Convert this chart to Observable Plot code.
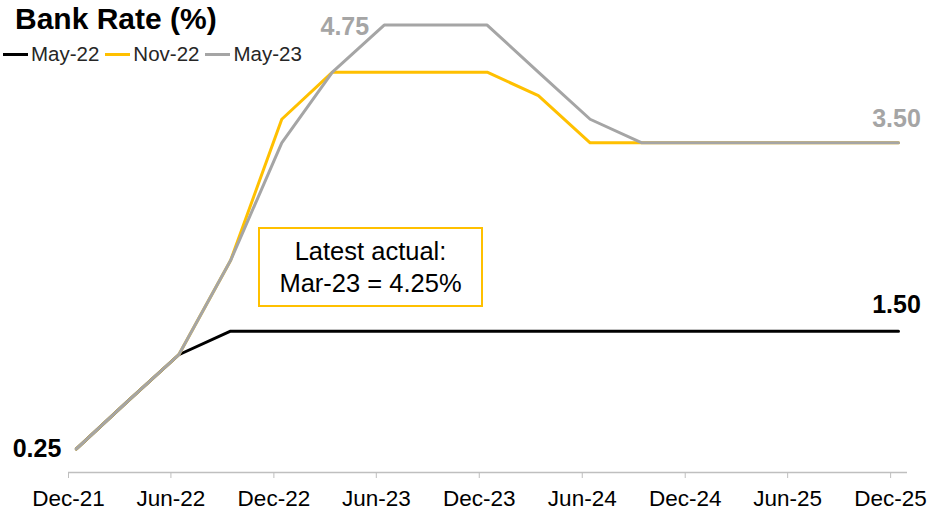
<!DOCTYPE html>
<html>
<head>
<meta charset="utf-8">
<script src="https://cdn.jsdelivr.net/npm/d3@7"></script>
<script src="https://cdn.jsdelivr.net/npm/@observablehq/plot@0.6"></script>
<style>
  body { margin: 0; background: #fff; font-family: "Liberation Sans", Arial, sans-serif; }
  #chart { position: relative; width: 934px; height: 512px; overflow: hidden; }
  #title { position: absolute; left: 15px; top: 4px; font-size: 30px; font-weight: bold; line-height: 30px; color: #000; white-space: nowrap; }
  #legend { position: absolute; left: 3px; top: 44px; display: flex; align-items: center; font-size: 20.5px; line-height: 20px; color: #262626; }
  #legend .item { display: flex; align-items: center; margin-right: 6px; }
  #legend .swatch { width: 25px; height: 3px; margin-right: 3px; }
  #note { position: absolute; left: 258px; top: 227px; width: 225px; height: 80px; box-sizing: border-box;
          border: 2px solid #FFC000; padding-top: 6px; text-align: center; font-size: 25.5px; line-height: 32px; color: #000; }
</style>
</head>
<body>
<div id="chart"></div>
<script>
// Quarterly Bank Rate paths (%) from three forecast vintages
const quarters = ["Dec-21", "Mar-22", "Jun-22", "Sep-22", "Dec-22", "Mar-23", "Jun-23", "Sep-23", "Dec-23",
                  "Mar-24", "Jun-24", "Sep-24", "Dec-24", "Mar-25", "Jun-25", "Sep-25", "Dec-25"];
const seriesNames = ["May-22", "Nov-22", "May-23"];
const may22 = [0.25, 0.75, 1.25, 1.5, 1.5, 1.5, 1.5, 1.5, 1.5, 1.5, 1.5, 1.5, 1.5, 1.5, 1.5, 1.5, 1.5];
const nov22 = [0.25, 0.75, 1.25, 2.25, 3.75, 4.25, 4.25, 4.25, 4.25, 4.0, 3.5, 3.5, 3.5, 3.5, 3.5, 3.5, 3.5];
const may23 = [0.25, 0.75, 1.25, 2.25, 3.5, 4.25, 4.75, 4.75, 4.75, 4.25, 3.75, 3.5, 3.5, 3.5, 3.5, 3.5, 3.5];
const seriesColors = ["#000000", "#FFC000", "#A5A5A5"];
const tickLabels = ["Dec-21", "Jun-22", "Dec-22", "Jun-23", "Dec-23", "Jun-24", "Dec-24", "Jun-25", "Dec-25"];
const latestActual = "Mar-23";

const parseMonth = d3.timeParse("%b-%y");
const fmt = d3.format(".2f");
// observations sit mid-month; axis ticks mark the first of the month
const dates = quarters.map(q => d3.timeDay.offset(parseMonth(q), 14));
const tickDates = tickLabels.map(parseMonth);

const allValues = [may22, nov22, may23];
const rows = allValues.flatMap((vals, s) =>
  vals.map((v, i) => ({series: seriesNames[s], date: dates[i], value: v})));

const lastIdx = quarters.length - 1;
const peakIdx = may23.indexOf(d3.max(may23));

const labelStyle = {x: "date", y: "value", text: d => fmt(d.value), fontWeight: "bold", fontSize: 25};

const plot = Plot.plot({
  width: 934,
  height: 512,
  marginLeft: 68,
  marginRight: 27,
  marginTop: 1,
  marginBottom: 40,
  style: {fontFamily: "Liberation Sans, Arial, sans-serif", fontSize: "22.5px", overflow: "visible", background: "transparent"},
  x: {type: "time", domain: [parseMonth("Dec-21"), new Date(2025, 11, 31)]},
  y: {domain: [0, 5], axis: null},
  color: {domain: seriesNames, range: seriesColors},
  marks: [
    Plot.ruleY([0], {stroke: "#BFBFBF", strokeWidth: 1.5}),
    Plot.axisX({
      ticks: tickDates, tickFormat: d3.timeFormat("%b-%y"), tickSize: 6, tickPadding: 12,
      stroke: "#BFBFBF", fill: "#000", fontSize: 22.5, label: null
    }),
    ...seriesNames.map(name =>
      Plot.line(rows.filter(r => r.series === name), {
        x: "date", y: "value", stroke: "series", strokeWidth: 3, strokeLinejoin: "round", strokeLinecap: "round"
      })),
    Plot.text([{date: dates[0], value: may22[0]}], {...labelStyle, textAnchor: "end", dx: -15, fill: "#000"}),
    Plot.text([{date: dates[peakIdx], value: may23[peakIdx]}], {...labelStyle, textAnchor: "end", dx: -15, dy: 2, fill: "#A5A5A5"}),
    Plot.text([{date: dates[lastIdx], value: may23[lastIdx]}], {...labelStyle, textAnchor: "middle", dx: -2, dy: -24, fill: "#A5A5A5"}),
    Plot.text([{date: dates[lastIdx], value: may22[lastIdx]}], {...labelStyle, textAnchor: "middle", dx: -2, dy: -26, fill: "#000"})
  ]
});

const chart = document.getElementById("chart");
chart.appendChild(plot);

const title = document.createElement("div");
title.id = "title";
title.textContent = "Bank Rate (%)";
chart.appendChild(title);

const legend = document.createElement("div");
legend.id = "legend";
seriesNames.forEach((name, i) => {
  const item = document.createElement("div");
  item.className = "item";
  const sw = document.createElement("span");
  sw.className = "swatch";
  sw.style.background = seriesColors[i];
  const label = document.createElement("span");
  label.textContent = name;
  item.appendChild(sw);
  item.appendChild(label);
  legend.appendChild(item);
});
chart.appendChild(legend);

const note = document.createElement("div");
note.id = "note";
const actualValue = may23[quarters.indexOf(latestActual)];
note.innerHTML = `Latest actual:<br>${latestActual} = ${fmt(actualValue)}%`;
chart.appendChild(note);
</script>
</body>
</html>
